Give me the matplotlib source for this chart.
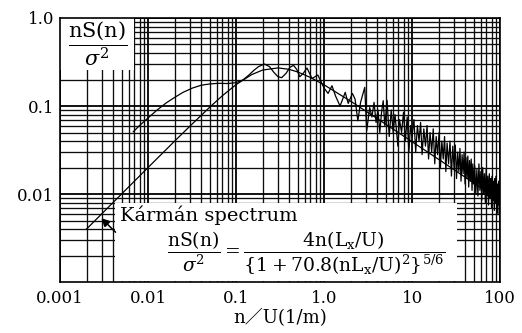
import matplotlib
matplotlib.use("Agg")
import matplotlib.pyplot as plt
from matplotlib.patches import Rectangle
from matplotlib.ticker import LogLocator, FixedLocator, FixedFormatter, NullFormatter

plt.rcParams['mathtext.fontset'] = 'dejavuserif'
plt.rcParams['font.family'] = ['DejaVu Serif', 'Noto Sans CJK JP']

# Karman spectrum
karman_x = [0.002, 0.003, 0.005, 0.01, 0.02, 0.03, 0.05, 0.07, 0.1, 0.15, 0.2, 0.3,
            0.4, 0.5, 0.7, 1.0, 2.0, 3.0, 5.0, 10, 20, 50, 100]
karman_y = [0.0040, 0.0060, 0.0100, 0.0200, 0.0398, 0.0592, 0.0965, 0.131, 0.175, 0.227,
            0.256, 0.271, 0.261, 0.244, 0.211, 0.174, 0.1135, 0.0872, 0.0623, 0.0393,
            0.0248, 0.0134, 0.0085]

# measured spectrum
meas_x = [0.0068, 0.008, 0.01, 0.0125, 0.016, 0.02, 0.025, 0.032, 0.04, 0.05, 0.063, 0.08,
          0.1, 0.12, 0.14, 0.16, 0.18, 0.21, 0.24, 0.27, 0.3, 0.33, 0.37, 0.41, 0.45,
          0.49, 0.53, 0.58, 0.64, 0.69, 0.73, 0.79, 0.85, 0.92,
          1.0, 1.11, 1.23, 1.35, 1.52, 1.74, 1.88, 2.1, 2.25, 2.42, 2.6, 2.9, 3.05, 3.3,
          3.5, 3.7, 3.9, 4.1, 4.3, 4.5, 4.7, 4.9, 5.2,
          5.5, 5.8, 6.1, 6.4, 6.9, 7.2, 7.6, 8.0, 8.4, 8.8, 9.2, 9.6, 10, 10.5, 11, 11.5,
          12, 12.5, 13, 13.6, 14.2, 14.8, 15.4, 16, 16.7, 17.4, 18.1, 18.8, 19.5, 20.3,
          21, 21.8, 22.6, 23.4, 24.2, 25, 26, 27, 28, 29, 30, 31, 32, 33, 34, 35, 36,
          37, 38, 39, 40, 41, 42, 43, 44, 45, 46, 47, 48, 49, 50,
          51.5, 53, 54.5, 56, 57.5, 59, 60.5, 62, 63.5, 65, 66.5, 68, 69.5, 71, 72.5,
          74, 75.5, 77, 78.5, 80, 81.5, 83, 84.5, 86, 87.5, 89, 90.5, 92, 93.5, 95,
          96.5, 98, 99.5]
meas_y = [0.051, 0.060, 0.073, 0.089, 0.108, 0.125, 0.143, 0.160, 0.172, 0.178, 0.181, 0.180,
          0.184, 0.198, 0.225, 0.255, 0.28, 0.30, 0.28, 0.24, 0.215, 0.21, 0.235, 0.275, 0.29,
          0.26, 0.215, 0.235, 0.27, 0.23, 0.205, 0.215, 0.225, 0.19,
          0.16, 0.139, 0.17, 0.13, 0.10, 0.143, 0.107, 0.139, 0.12, 0.068, 0.11, 0.163, 0.052, 0.096,
          0.075, 0.11, 0.065, 0.09, 0.05, 0.085, 0.115, 0.06, 0.116,
          0.045, 0.09, 0.05, 0.08, 0.035, 0.07, 0.05, 0.085, 0.04, 0.075, 0.03, 0.06, 0.045, 0.07,
          0.03, 0.06, 0.04, 0.065, 0.028, 0.055, 0.035, 0.06, 0.025, 0.05, 0.03, 0.055, 0.022,
          0.045, 0.028, 0.05, 0.02, 0.04, 0.025, 0.045, 0.018, 0.038, 0.022, 0.04, 0.016, 0.035,
          0.02, 0.036, 0.015, 0.03, 0.018, 0.033, 0.014, 0.028, 0.017, 0.03, 0.013, 0.026, 0.015,
          0.027, 0.012, 0.024, 0.014, 0.025, 0.011, 0.022, 0.013,
          0.021, 0.010, 0.019, 0.0095, 0.022, 0.011, 0.018, 0.0085, 0.02, 0.010, 0.017, 0.008,
          0.019, 0.0095, 0.016, 0.0075, 0.017, 0.009, 0.015, 0.007, 0.016, 0.0085, 0.014, 0.0065,
          0.015, 0.008, 0.016, 0.006, 0.013, 0.0075, 0.014, 0.0058, 0.011]

x_ticks = [0.001, 0.01, 0.1, 1.0, 10, 100]
x_labels = ["0.001", "0.01", "0.1", "1.0", "10", "100"]
y_ticks = [0.01, 0.1, 1.0]
y_labels = ["0.01", "0.1", "1.0"]


def main():
    fig = plt.figure(figsize=(5.22, 3.33), dpi=100)
    ax = fig.add_axes([0.115, 0.153, 0.843, 0.793])
    ax.set_xscale('log')
    ax.set_yscale('log')
    ax.set_xlim(0.001, 100)
    ax.set_ylim(0.001, 1.0)

    ax.xaxis.set_major_locator(FixedLocator(x_ticks))
    ax.xaxis.set_major_formatter(FixedFormatter(x_labels))
    ax.yaxis.set_major_locator(FixedLocator(y_ticks))
    ax.yaxis.set_major_formatter(FixedFormatter(y_labels))
    for a in (ax.xaxis, ax.yaxis):
        a.set_minor_locator(LogLocator(base=10, subs=range(2, 10), numticks=20))
        a.set_minor_formatter(NullFormatter())
    ax.grid(which='major', color='black', lw=1.3)
    ax.grid(which='minor', color='0.05', lw=0.95)
    ax.tick_params(which='both', length=0, labelsize=12, pad=6)
    ax.tick_params(axis='y', pad=4)
    for s in ax.spines.values():
        s.set_linewidth(1.2)

    ax.plot(karman_x, karman_y, color='black', lw=0.9, zorder=3)
    ax.plot(meas_x, meas_y, color='black', lw=0.9, zorder=3)

    # white boxes over the grid
    ax.add_patch(Rectangle((0, 0.803), 0.168, 0.197, transform=ax.transAxes,
                           facecolor='white', edgecolor='none', zorder=2))
    ax.add_patch(Rectangle((0.125, 0.003), 0.777, 0.297, transform=ax.transAxes,
                           facecolor='white', edgecolor='none', zorder=2))

    ax.text(0.085, 0.903, r'$\dfrac{\mathrm{nS(n)}}{\sigma^2}$', transform=ax.transAxes,
            ha='center', va='center', fontsize=15, zorder=4)
    ax.text(0.136, 0.254, 'Kármán spectrum', transform=ax.transAxes,
            ha='left', va='center', fontsize=14, zorder=4)
    ax.text(0.56, 0.11,
            r'$\dfrac{\mathrm{nS(n)}}{\sigma^2}=\dfrac{4\mathrm{n}(\mathrm{L_x}/\mathrm{U})}'
            r'{\{1+70.8(\mathrm{nL_x}/\mathrm{U})^2\}^{5/6}}$',
            transform=ax.transAxes, ha='center', va='center', fontsize=13.5, zorder=4)
    ax.annotate('', xy=(0.0028, 0.0056), xytext=(0.0045, 0.0035),
                arrowprops=dict(arrowstyle='-|>', color='black', lw=1.1,
                                mutation_scale=12), zorder=4)

    ax.set_xlabel('n／U(1/m)', fontsize=13, labelpad=1)

    plt.savefig("out.png", dpi=100)


if __name__ == "__main__":
    main()
